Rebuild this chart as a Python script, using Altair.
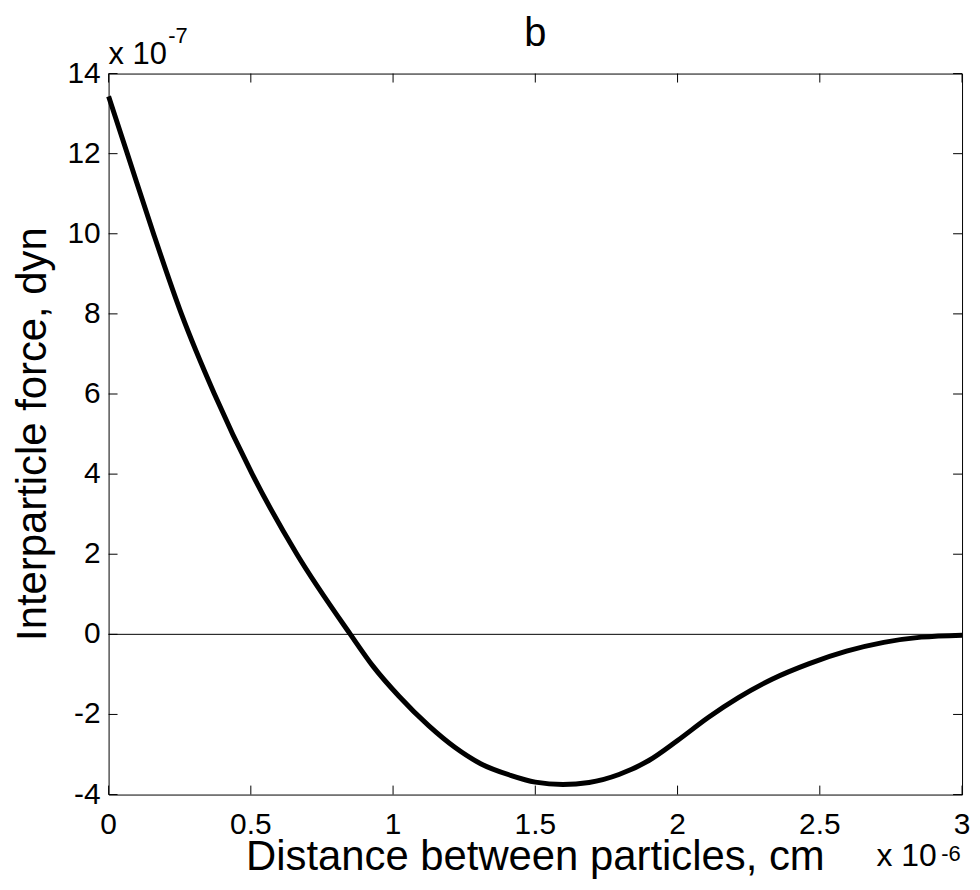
import altair as alt
import pandas as pd

# Curve (x in units of 1e-6 cm, force in units of 1e-7 dyn)
dist = [0.0, 0.066, 0.158, 0.256, 0.372, 0.505, 0.662, 0.85, 0.93, 1.02, 1.125, 1.217, 1.308,
        1.413, 1.5, 1.597, 1.689, 1.794, 1.899, 2.0, 2.109, 2.214, 2.332, 2.463, 2.594, 2.725,
        2.857, 3.0]
force = [13.43, 12.0, 10.0, 8.0, 6.0, 4.0, 2.0, 0.0, -0.8, -1.54, -2.28, -2.82, -3.23,
         -3.52, -3.69, -3.75, -3.70, -3.50, -3.15, -2.65, -2.07, -1.58, -1.12, -0.73, -0.42,
         -0.20, -0.07, -0.02]
x_ticks = [0, 0.5, 1, 1.5, 2, 2.5, 3]
x_tick_labels = ["0", "0.5", "1", "1.5", "2", "2.5", "3"]
y_ticks = [-4, -2, 0, 2, 4, 6, 8, 10, 12, 14]
y_tick_labels = ["-4", "-2", "0", "2", "4", "6", "8", "10", "12", "14"]

W, H = 857, 724
FONT = "Liberation Sans"
TL = 9

df = pd.DataFrame({"x": dist, "y": force})
xt = pd.DataFrame({"t": x_ticks, "lab": x_tick_labels})
yt = pd.DataFrame({"t": y_ticks, "lab": y_tick_labels})

xs = alt.Scale(domain=[0, 3], nice=False, zero=False)
ys = alt.Scale(domain=[-4, 14], nice=False, zero=False)

line = alt.Chart(df).mark_line(color="black", strokeWidth=5, interpolate="monotone").encode(
    x=alt.X("x:Q", scale=xs, axis=None),
    y=alt.Y("y:Q", scale=ys, axis=None),
)

zero = alt.Chart(pd.DataFrame({"y": [0]})).mark_rule(color="black", strokeWidth=1).encode(
    y=alt.Y("y:Q", scale=ys, axis=None))

xb = alt.Chart(xt).mark_rule(color="black", strokeWidth=1).encode(
    x=alt.X("t:Q", scale=xs, axis=None), y=alt.value(H), y2=alt.value(H - TL))
xtop = alt.Chart(xt).mark_rule(color="black", strokeWidth=1).encode(
    x=alt.X("t:Q", scale=xs, axis=None), y=alt.value(0), y2=alt.value(TL))
yl = alt.Chart(yt).mark_rule(color="black", strokeWidth=1).encode(
    y=alt.Y("t:Q", scale=ys, axis=None), x=alt.value(0), x2=alt.value(TL))
yr = alt.Chart(yt).mark_rule(color="black", strokeWidth=1).encode(
    y=alt.Y("t:Q", scale=ys, axis=None), x=alt.value(W), x2=alt.value(W - TL))

xlabels = alt.Chart(xt).mark_text(font=FONT, fontSize=30, color="black", align="center",
                                  baseline="alphabetic").encode(
    x=alt.X("t:Q", scale=xs, axis=None), y=alt.value(H + 40), text="lab:N")
ylabels = alt.Chart(yt).mark_text(font=FONT, fontSize=30, color="black", align="right",
                                  baseline="middle").encode(
    y=alt.Y("t:Q", scale=ys, axis=None), x=alt.value(-8), text="lab:N")

def txt(s, x, y, size, align="left", angle=0):
    return alt.Chart(pd.DataFrame({"s": [s]})).mark_text(
        font=FONT, fontSize=size, color="black", align=align, baseline="alphabetic", angle=angle
    ).encode(text="s:N", x=alt.value(x), y=alt.value(y))

title = txt("b", W / 2, -28, 40, "center")
xlab = txt("Distance between particles, cm", W / 2, 800, 42, "center")
ylab = txt("Interparticle force, dyn", -63, H / 2, 42, "center", angle=270)
ymul = txt("x 10", 0, -10, 31)
yexp = txt("-7", 60, -31, 22)
xmul = txt("x 10", 771, 796, 32)
xexp = txt("-6", 836, 791, 22)

chart = alt.layer(line, zero, xb, xtop, yl, yr, xlabels, ylabels, title, xlab, ylab,
                  ymul, yexp, xmul, xexp).properties(
    width=W, height=H,
    autosize=alt.AutoSizeParams(type="none"),
    padding={"left": 101, "top": 64, "right": 10, "bottom": 92},
    background="white",
).configure_view(stroke="black", strokeWidth=1)

chart.save("out.html", embed_options={"renderer": "svg", "actions": False})
